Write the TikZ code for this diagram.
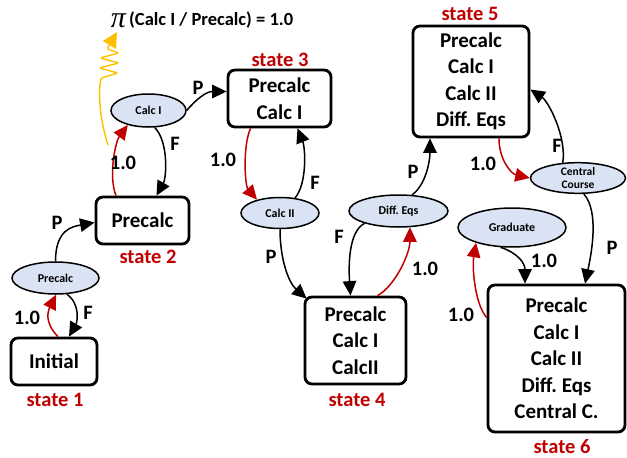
\documentclass[tikz,border=0pt]{standalone}
\usepackage{fontspec}
\setmainfont{Carlito}
\newfontfamily\pifont{Liberation Serif}
\usetikzlibrary{arrows.meta,shapes.geometric}
\definecolor{stred}{HTML}{C00000}
\definecolor{ovfill}{HTML}{DAE3F3}
\definecolor{gold}{HTML}{FFC000}
\frenchspacing
\tikzset{
  box/.style={draw, line width=2.8pt, rounded corners=7pt, align=center, inner sep=0pt,
    font=\fontsize{21}{26.5}\selectfont\bfseries},
  oval/.style={ellipse, draw, line width=1.5pt, fill=ovfill, inner sep=0pt, align=center,
    font=\fontsize{12}{13.5}\selectfont\bfseries},
  stlabel/.style={text=stred, font=\fontsize{20.5}{24}\selectfont\bfseries},
  elbl/.style={font=\fontsize{20.5}{24}\selectfont\bfseries},
  arr/.style={line width=1.5pt, -{Triangle[length=14.5pt,width=13.5pt]}},
  redarr/.style={arr, draw=stred},
}
\begin{document}
\begin{tikzpicture}[x=1pt,y=-1pt]
\useasboundingbox (0,0) rectangle (627,458);

% states
\node[box, minimum width=86pt, minimum height=47pt] (s1) at (54,361.5) {Initial};
\node[box, minimum width=93pt, minimum height=47pt] (s2) at (142.5,220.5) {Precalc};
\node[box, minimum width=103pt, minimum height=57pt] (s3) at (279.5,98.5) {Precalc\\Calc I};
\node[box, minimum width=101pt, minimum height=87pt] (s4) at (355.5,340.5) {Precalc\\Calc I\\CalcII};
\node[box, minimum width=116pt, minimum height=111pt] (s5) at (471,81.5) {Precalc\\Calc I\\Calc II\\Diff. Eqs};
\node[box, minimum width=137pt, minimum height=147pt] (s6) at (556.5,358.5) {Precalc\\Calc I\\Calc II\\Diff. Eqs\\Central C.};

\node[stlabel] (l1) at (55,400) {state 1};
\node[stlabel] (l2) at (148,257) {state 2};
\node[stlabel] (l3) at (280,60) {state 3};
\node[stlabel] (l4) at (357,400) {state 4};
\node[stlabel] (l5) at (470,14) {state 5};
\node[stlabel] (l6) at (562,447) {state 6};

% actions
\node[oval, minimum width=87pt, minimum height=32pt] (e1) at (55.5,278) {Precalc};
\node[oval, minimum width=75pt, minimum height=33pt] (e2) at (148.5,110.5) {Calc I};
\node[oval, minimum width=78pt, minimum height=31pt] (e3) at (280,213) {Calc II};
\node[oval, minimum width=99pt, minimum height=32pt] (e4) at (398.5,211) {Diff. Eqs};
\node[oval, minimum width=95pt, minimum height=30pt, font=\fontsize{11.5}{13.5}\selectfont\bfseries] (e5) at (578,178) {Central\\Course};
\node[oval, minimum width=108pt, minimum height=39pt] (e6) at (512,227.5) {Graduate};

% transitions
\draw[redarr] ([xshift=4pt]s1.north) .. controls +(-14,-14) and +(-8,16) .. (e1.-88);
\draw[arr] (e1.-55) .. controls +(14,10) and +(8,-14) .. ([xshift=15pt]s1.north);
\draw[arr] (e1.north) .. controls +(0,-32) and +(-22,4) .. ([yshift=-2pt]s2.west);

\draw[redarr] ([xshift=-26.5pt]s2.north) .. controls +(-8,-20) and +(-12,16) .. (e2.-145);
\draw[arr] (e2.-70) .. controls +(14,14) and +(10,-18) .. ([xshift=14pt]s2.north);
\draw[arr] (e2.east) .. controls +(10,-12) and +(-20,0) .. ([yshift=7pt]s3.west);

\draw[redarr] ([xshift=-29pt]s3.south) .. controls +(-8,18) and +(-12,-14) .. (e3.150);
\draw[arr] (e3.45) .. controls +(12,-14) and +(8,20) .. ([xshift=18pt]s3.south);
\draw[arr] (e3.south) .. controls +(0,30) and +(-18,-16) .. ([shift={(3pt,-3pt)}]s4.north west);

\draw[arr] (e4.-160) .. controls +(-16,8) and +(-2,-30) .. ([xshift=-5pt]s4.north);
\draw[redarr] ([xshift=22pt]s4.north) .. controls +(18,-10) and +(0,26) .. (e4.-55);
\draw[arr] (e4.50) .. controls +(14,-10) and +(0,22) .. ([xshift=-41pt]s5.south);

\draw[redarr] ([xshift=28pt]s5.south) .. controls +(0,22) and +(-18,-4) .. (e5.west);
\draw[arr] (e5.135) .. controls +(4,-26) and +(18,12) .. ([yshift=-8pt]s5.east);
\draw[arr] (e5.-70) .. controls +(16,18) and +(6,-28) .. ([xshift=28.5pt]s6.north);

\draw[arr] (e6.-120) .. controls +(18,6) and +(0,-20) .. ([xshift=-31.5pt]s6.north);
\draw[redarr] ([yshift=41pt]s6.west) .. controls +(-12,-14) and +(-4,24) .. (e6.-157);

% transition labels
\node[elbl] (t1) at (27,318) {1.0};
\node[elbl] (t2) at (88,313) {F};
\node[elbl] (t3) at (57,223) {P};
\node[elbl] (t4) at (123,163) {1.0};
\node[elbl] (t5) at (175,144) {F};
\node[elbl] (t6) at (198,88) {P};
\node[elbl] (t7) at (223,160) {1.0};
\node[elbl] (t8) at (315,183) {F};
\node[elbl] (t9) at (271,257) {P};
\node[elbl] (t10) at (339,237) {F};
\node[elbl] (t11) at (425,269) {1.0};
\node[elbl] (t12) at (413,172) {P};
\node[elbl] (t13) at (483,164) {1.0};
\node[elbl] (t14) at (557,146) {F};
\node[elbl] (t15) at (612,248) {P};
\node[elbl] (t16) at (544,261) {1.0};
\node[elbl] (t17) at (461,315) {1.0};

% policy note with its wavy pointer
\node[anchor=west, inner sep=0pt, font=\fontsize{18.5}{20}\selectfont\bfseries] (pol) at (129,20) {(Calc I / Precalc) = 1.0};
\node[anchor=base east, inner sep=0pt, font=\fontsize{30}{30}\selectfont\pifont\itshape] (pi) at (126,27) {π};
\coordinate (w0) at (108,145);
\coordinate (w1) at (117,32);
\draw[line width=1.4pt, gold, rounded corners=1.5pt, -{Triangle[length=15pt,width=15pt]}]
  (w0) .. controls (100,120) and (98,95) .. (101,78)
  -- (118,73) -- (99,68) -- (119,63) -- (100,58) -- (119,53) -- (107,49) -- (w1);
\end{tikzpicture}
\end{document}
